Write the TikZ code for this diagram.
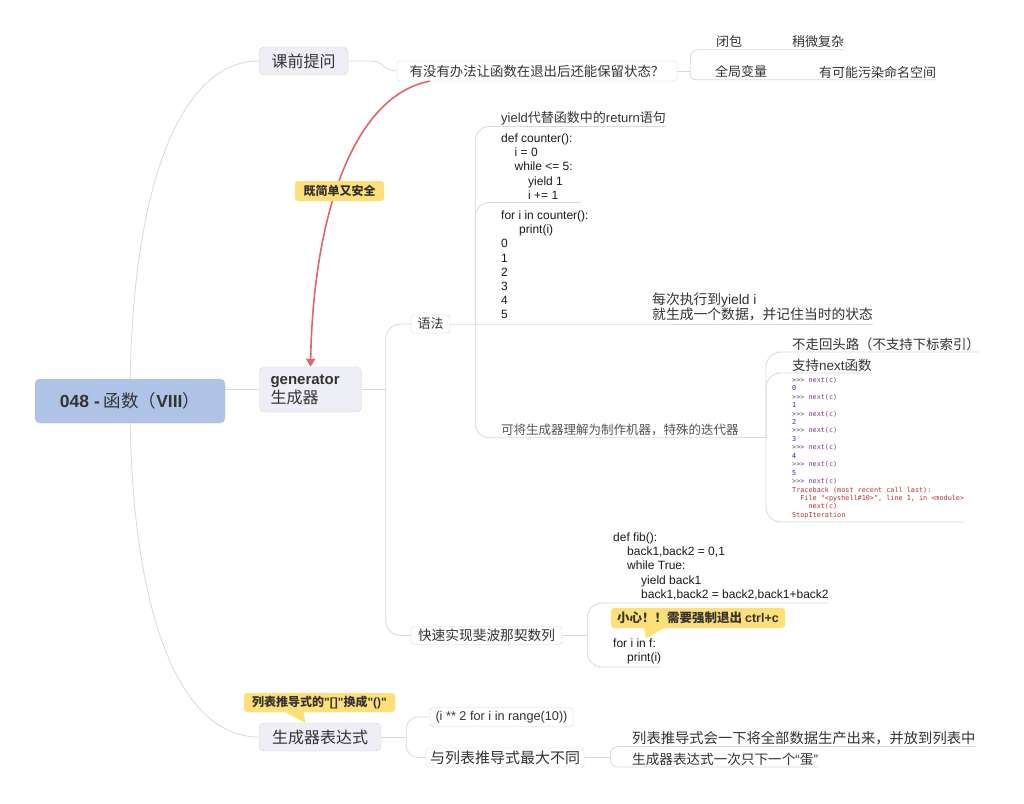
\documentclass[tikz,border=0pt]{standalone}
\usepackage{fontspec}
\setmainfont{Noto Sans CJK SC}
\newfontfamily\latinfont{Liberation Sans}
\newfontfamily\shellfont{DejaVu Sans Mono}
\usetikzlibrary{positioning, arrows.meta, backgrounds}

\definecolor{rootblue}{HTML}{AEC3E6}
\definecolor{topicfill}{HTML}{EEEFF6}
\definecolor{topicline}{HTML}{D5D7DF}
\definecolor{linkgray}{HTML}{D9D9D9}
\definecolor{arrowred}{HTML}{E0646A}
\definecolor{noteyellow}{HTML}{FEDF78}
\definecolor{txt}{HTML}{333333}
\definecolor{txtlight}{HTML}{555555}
\definecolor{codeblack}{HTML}{1A1A1A}
\definecolor{pyprompt}{HTML}{5C5060}
\definecolor{pycall}{HTML}{7A3A8C}
\definecolor{pynum}{HTML}{2E2EA8}
\definecolor{pyerr}{HTML}{B83030}

\newcommand{\pyp}{\textcolor{pyprompt}{>>>}~\textcolor{pycall}{next(c)}}
\newcommand{\pyn}[1]{\textcolor{pynum}{#1}}
\newcommand{\pye}[1]{\textcolor{pyerr}{#1}}

\begin{document}
\begin{tikzpicture}[x=1pt, y=-1pt,
    rootbox/.style={fill=rootblue, draw=rootblue, rounded corners=5pt, minimum width=190pt, minimum height=44pt, text=txt, font=\fontsize{17.5}{20}\selectfont},
    mainbox/.style={fill=topicfill, draw=topicline, rounded corners=5pt, inner xsep=10pt, text=txt, font=\fontsize{16}{19}\selectfont},
    subbox/.style={fill=white, draw=topicline, rounded corners=3pt, inner xsep=4pt, inner ysep=2pt, text=txt, font=\fontsize{13}{16}\selectfont},
    leaf/.style={inner xsep=0pt, inner ysep=1.5pt, anchor=west, text=txt, font=\fontsize{13}{16}\selectfont},
    code/.style={inner xsep=0pt, inner ysep=3pt, align=left, text=codeblack, font=\latinfont\fontsize{12}{14.2}\selectfont},
    shell/.style={inner xsep=0pt, inner ysep=3pt, anchor=south west, align=left, font=\shellfont\fontsize{6.8}{8.44}\selectfont},
    notebox/.style={fill=noteyellow, rounded corners=3pt, inner sep=2pt, text=txt, font=\bfseries\fontsize{12}{14}\selectfont},
    link/.style={draw=linkgray, line width=0.8pt},
    redarrow/.style={draw=arrowred, line width=1.6pt, -{Triangle[width=9pt,length=8pt]}}]
    \useasboundingbox (0,0) rectangle (1024,803);
    \begin{pgfonlayer}{background}
        \fill[white] (0,0) rectangle (1024,803);
    \end{pgfonlayer}
    % 中心主题
    \node[rootbox] (root) at (130,401) {{\latinfont\bfseries 048 -} 函数（{\latinfont\bfseries VIII}）};
    % 一级分支
    \node[mainbox, minimum width=89pt, minimum height=28pt] (ask) at (303.5,61) {课前提问};
    \node[mainbox, align=left, text width=80pt, inner xsep=11pt, minimum height=45pt] (gen) at (310.5,389.5) {{\latinfont\bfseries\fontsize{15}{19}\selectfont generator}\\生成器};
    \node[mainbox, minimum width=122pt, minimum height=28pt] (genexp) at (320,737) {生成器表达式};
    % 二级分支
    \node[subbox, minimum width=280pt, minimum height=20pt, font=\fontsize{13.4}{16}\selectfont] (q) at (537,71) {有没有办法让函数在退出后还能保留状态？};
    \node[subbox, minimum width=39pt, minimum height=18pt] (syntax) at (430.5,324) {语法};
    \node[subbox, minimum width=151pt, minimum height=18pt, font=\fontsize{13.7}{16}\selectfont] (fib) at (486.5,635.5) {快速实现斐波那契数列};
    \node[subbox, minimum width=143pt, minimum height=19pt, font=\latinfont\fontsize{12.7}{15}\selectfont] (gexp1) at (501.5,717) {(i ** 2 for i in range(10))};
    \node[subbox, minimum width=150pt, minimum height=19pt, font=\fontsize{15}{17}\selectfont] (gexp2) at (505,757.5) {与列表推导式最大不同};
    % 课前提问的回答
    \node[leaf] (closure) at (716,42) {闭包};
    \node[leaf] (complex) at (792,42) {稍微复杂};
    \node[leaf] (globalvar) at (715,72) {全局变量};
    \node[leaf] (pollute) at (819,72) {有可能污染命名空间};
    % 语法
    \node[leaf] (yieldtxt) at (501,118) {{\latinfont yield}代替函数中的{\latinfont return}语句};
    \node[code, anchor=north west] (counter) at (501,130.6) {def counter():\\\hspace*{13.5pt}i = 0\\\hspace*{13.5pt}while <= 5:\\\hspace*{27pt}yield 1\\\hspace*{27pt}i += 1};
    \node[code, anchor=north west] (forloop) at (501,207.6) {for i in counter():\\\hspace*{18pt}print(i)\\0\\1\\2\\3\\4\\5};
    \node[leaf, align=left, anchor=south west, font=\fontsize{13.8}{13.6}\selectfont] (each) at (652,323) {每次执行到{\latinfont yield i}\\就生成一个数据，并记住当时的状态};
    \node[leaf, text=txtlight, font=\fontsize{12.5}{15}\selectfont] (machine) at (501,430) {可将生成器理解为制作机器，特殊的迭代器};
    \node[leaf, font=\fontsize{13.4}{16}\selectfont] (noback) at (792,344) {不走回头路（不支持下标索引）};
    \node[leaf, font=\fontsize{13.5}{16}\selectfont] (nextfn) at (792,365) {支持{\latinfont next}函数};
    \node[shell] (shell) at (792,522) {\pyp\\\pyn{0}\\\pyp\\\pyn{1}\\\pyp\\\pyn{2}\\\pyp\\\pyn{3}\\\pyp\\\pyn{4}\\\pyp\\\pyn{5}\\\pyp\\
        \pye{Traceback (most recent call last):}\\
        \pye{\phantom{xx}File "<pyshell\#10>", line 1, in <module>}\\
        \pye{\phantom{xxxx}next(c)}\\
        \pye{StopIteration}};
    % 斐波那契数列
    \node[code, anchor=south west] (fibdef) at (613,603) {def fib():\\\hspace*{14pt}back1,back2 = 0,1\\\hspace*{14pt}while True:\\\hspace*{28pt}yield back1\\\hspace*{28pt}back1,back2 = back2,back1+back2};
    \node[code, anchor=south west] (forf) at (613,667) {for i in f:\\\hspace*{14pt}print(i)};
    \node[notebox, minimum width=174pt, minimum height=20pt, font=\bfseries\fontsize{12.5}{14}\selectfont] (caution) at (698,618) {小心！！需要强制退出 {\latinfont\bfseries ctrl+c}};
    \fill[noteyellow] ([xshift=-54pt]caution.south) -- ([xshift=-34pt]caution.south) -- ([xshift=-52pt,yshift=-10pt]caution.south) -- cycle;
    % 生成器表达式
    \node[leaf, font=\fontsize{14.3}{16}\selectfont] (listall) at (632,738) {列表推导式会一下将全部数据生产出来，并放到列表中};
    \node[leaf, font=\fontsize{13.6}{16}\selectfont] (egg) at (632,759) {生成器表达式一次只下一个{\latinfont “}蛋{\latinfont ”}};
    \node[notebox, minimum width=151pt, minimum height=19pt] (tip) at (319.5,702.5) {列表推导式的{\latinfont\bfseries "[]"}换成{\latinfont\bfseries "()"}};
    \fill[noteyellow] ([xshift=-34pt]tip.south) -- ([xshift=-16pt]tip.south) -- ([xshift=-14pt,yshift=-11pt]tip.south) -- cycle;
    % 连线
    \begin{pgfonlayer}{background}
        \draw[link] (root.center) .. controls +(0,-210) and +(-80,0) .. (ask.west);
        \draw[link] (root.center |- gen.west) -- (gen.west);
        \draw[link] (root.center) .. controls +(0,210) and +(-80,0) .. (genexp.west);
        % 课前提问
        \draw[link] (ask.east) -- ++(22,0) .. controls +(14,0) and +(-14,0) .. (q.west);
        \coordinate (qj) at ([xshift=13pt]q.east);
        \draw[link] (q.east) -- (qj);
        \draw[link, rounded corners=8pt] (qj) |- (closure.south west) -- (complex.south east);
        \draw[link, rounded corners=6pt] (qj) |- (globalvar.south west) -- (pollute.south east);
        % generator
        \coordinate (gj) at ([xshift=24pt]gen.east);
        \draw[link] (gen.east) -- (gj);
        \draw[link, rounded corners=15pt] (gj) |- (syntax.west);
        \draw[link, rounded corners=15pt] (gj) |- (fib.west);
        % 语法
        \coordinate (sj) at ([xshift=25pt]syntax.east);
        \draw[link] (syntax.east) -- (sj) -- (sj -| each.south east);
        \draw[link, rounded corners=14pt] (sj) |- (yieldtxt.south west) -- (yieldtxt.south east);
        \draw[link, rounded corners=14pt] (sj) |- (counter.south west) -- ([xshift=8pt]counter.south east);
        \draw[link, rounded corners=14pt] (sj) |- (machine.south west) -- (machine.south east);
        \coordinate (mj) at ([xshift=27pt]machine.south east);
        \draw[link] (machine.south east) -- (mj);
        \draw[link, rounded corners=15pt] (mj) |- (noback.south west) -- (noback.south east);
        \draw[link, rounded corners=15pt] (mj) |- (nextfn.south west) -- (nextfn.south east);
        \draw[link, rounded corners=15pt] (mj) |- (shell.south west) -- (shell.south east);
        % 斐波那契数列
        \coordinate (fj) at ([xshift=25pt]fib.east);
        \draw[link] (fib.east) -- (fj);
        \draw[link, rounded corners=15pt] (fj) |- (fibdef.south west) -- (fibdef.south east);
        \draw[link, rounded corners=15pt] (fj) |- (forf.south west) -- (forf.south east);
        % 生成器表达式
        \coordinate (ej) at ([xshift=25pt]genexp.east);
        \draw[link] (genexp.east) -- (ej);
        \draw[link, rounded corners=12pt] (ej) |- (gexp1.west);
        \draw[link, rounded corners=12pt] (ej) |- (gexp2.west);
        \coordinate (dj) at ([xshift=26pt]gexp2.east);
        \draw[link] (gexp2.east) -- (dj);
        \draw[link, rounded corners=8pt] (dj) |- (listall.south west) -- (listall.south east);
        \draw[link, rounded corners=8pt] (dj) |- (egg.south west) -- (egg.south east);
    \end{pgfonlayer}
    % 红色关联线
    \draw[redarrow] ([xshift=33pt]q.south west) .. controls +(-75,14) and +(3,-155) .. (gen.north);
    \node[notebox, minimum width=89pt, minimum height=20pt] (safe) at (339.5,191) {既简单又安全};
\end{tikzpicture}
\end{document}
